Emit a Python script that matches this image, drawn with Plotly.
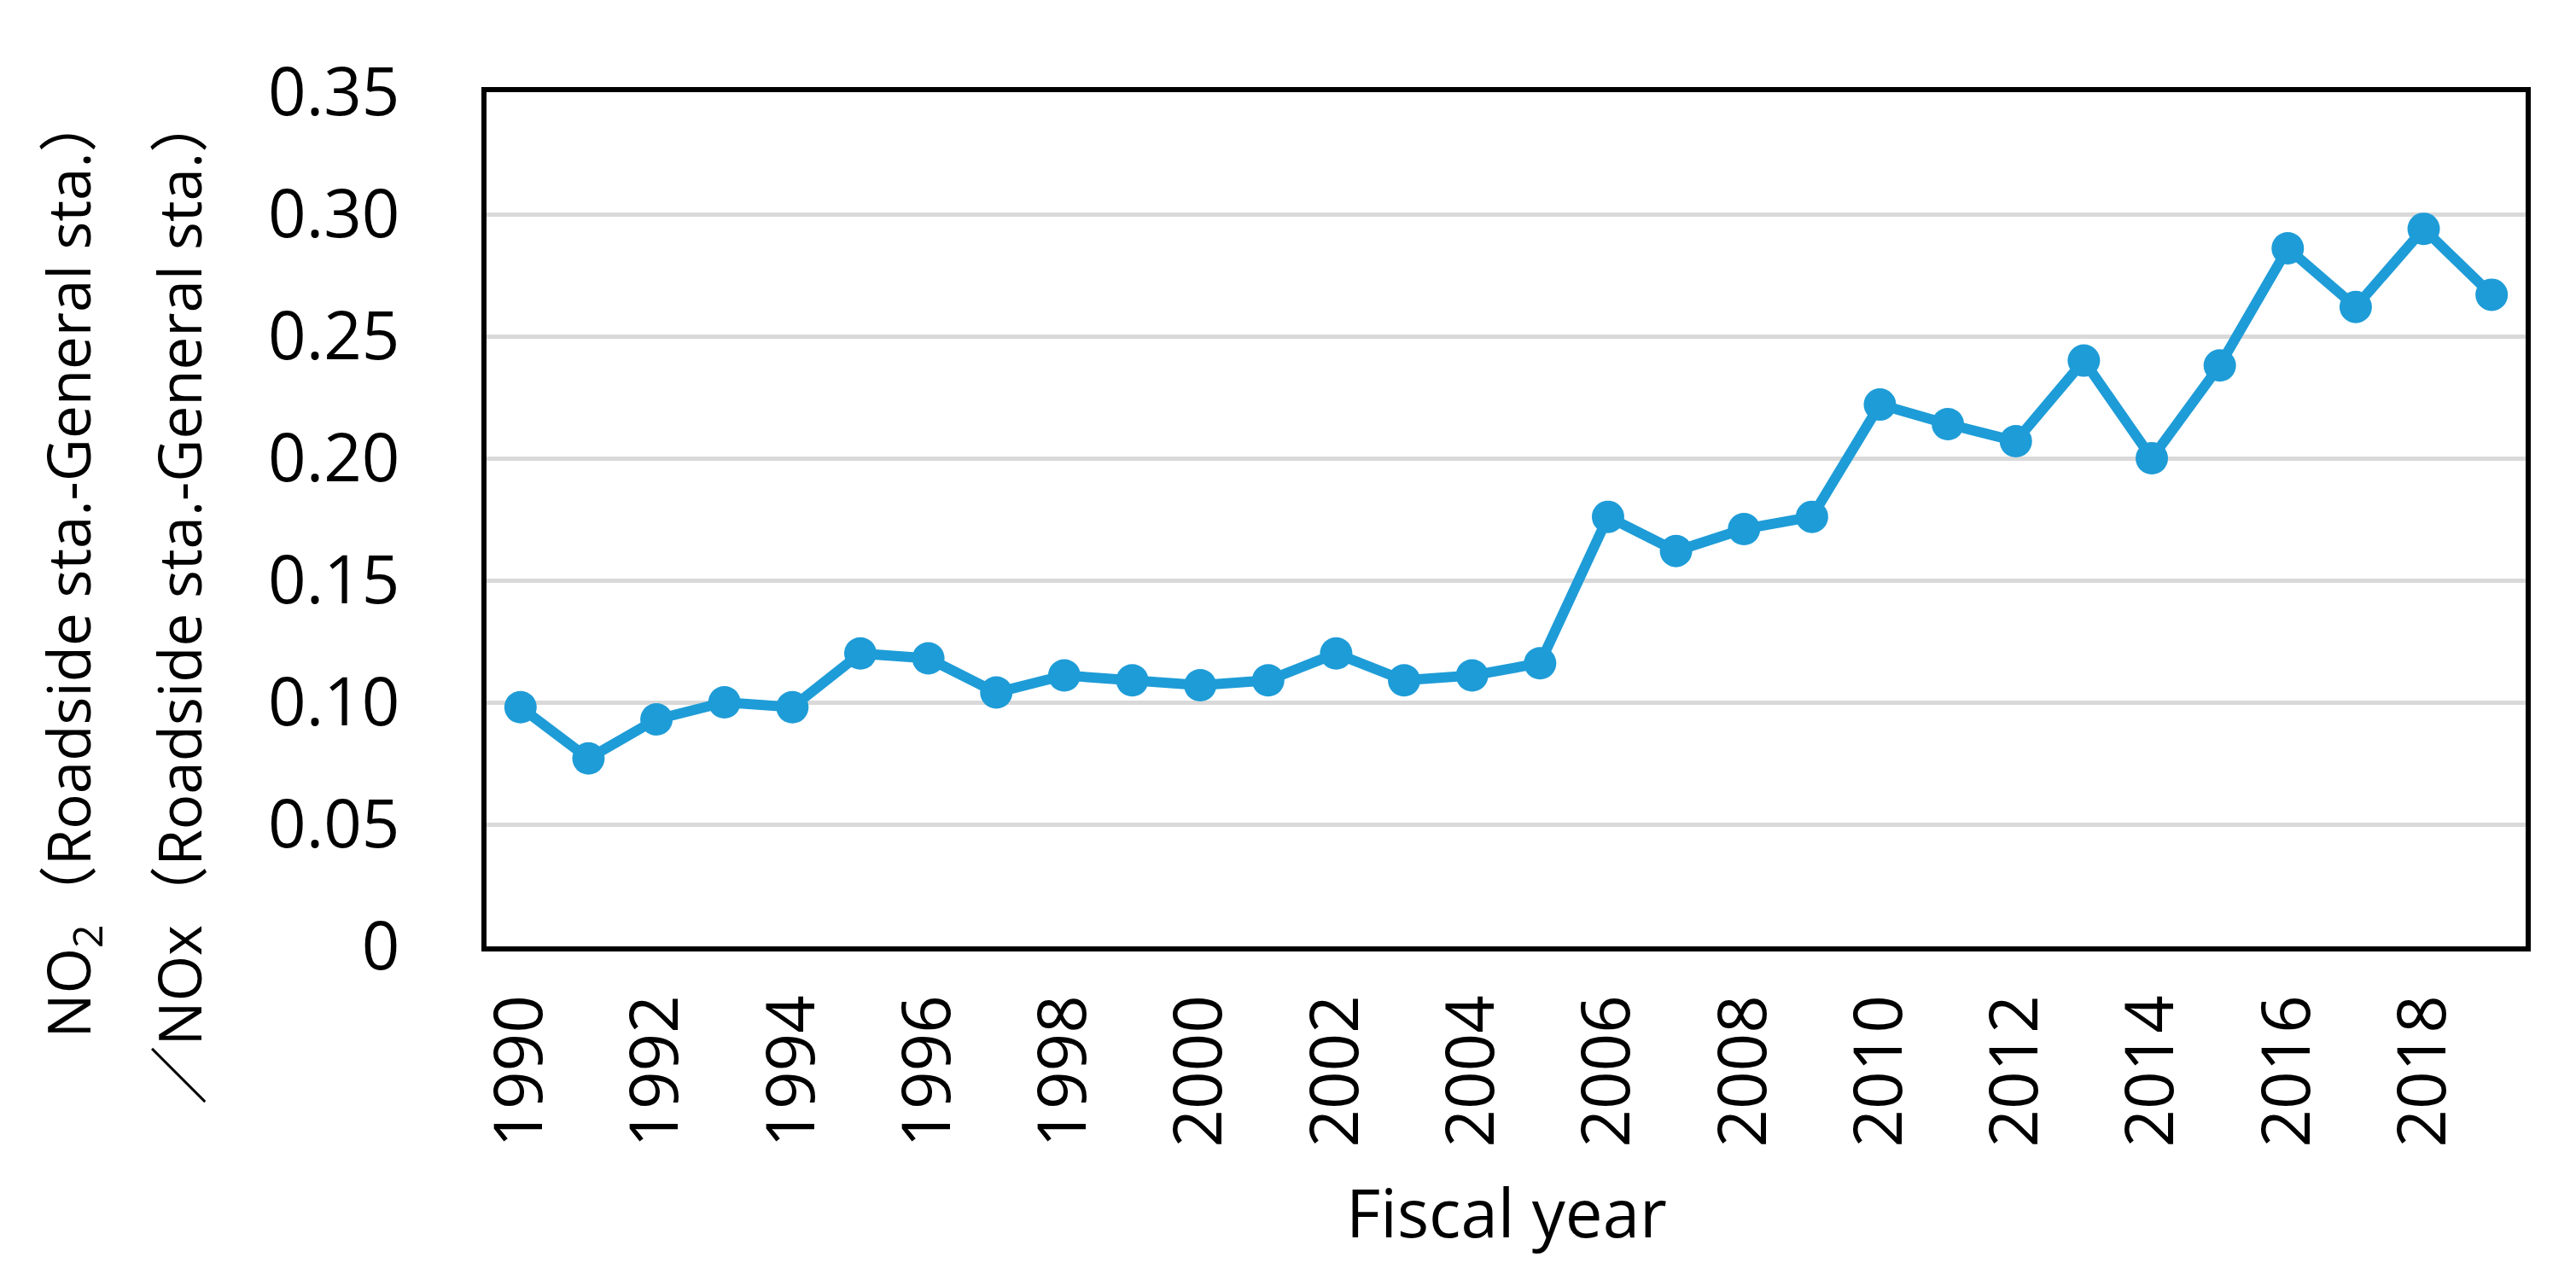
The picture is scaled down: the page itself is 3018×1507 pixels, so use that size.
import plotly.graph_objects as go

years = list(range(1990, 2020))
ratio = [0.098, 0.077, 0.093, 0.100, 0.098, 0.120, 0.118, 0.104, 0.111, 0.109,
         0.107, 0.109, 0.120, 0.109, 0.111, 0.116, 0.176, 0.162, 0.171, 0.176,
         0.222, 0.214, 0.207, 0.240, 0.200, 0.238, 0.286, 0.262, 0.294, 0.267]
x_ticks = list(range(1990, 2020, 2))
y_ticks = [0, 0.05, 0.10, 0.15, 0.20, 0.25, 0.30, 0.35]
y_ticktext = ["0", "0.05", "0.10", "0.15", "0.20", "0.25", "0.30", "0.35"]

FONT = "Open Sans, Noto Sans, Noto Sans CJK JP, sans-serif"
BLUE = "#1E9CD7"

fig = go.Figure()
fig.add_trace(go.Scatter(
    x=years, y=ratio, mode="lines+markers",
    line=dict(color=BLUE, width=12),
    marker=dict(color=BLUE, size=38),
    showlegend=False,
))

W, H = 3018, 1507
L, R, T, B = 562, 2951, 100, 1101
fig.update_layout(
    width=W, height=H,
    margin=dict(l=L, r=W - R, t=T, b=H - B),
    paper_bgcolor="white", plot_bgcolor="white",
    font=dict(family=FONT, color="black", size=78),
)
fig.update_xaxes(
    range=[1989.5, 2019.5], tickvals=x_ticks, ticktext=[str(v) for v in x_ticks],
    tickangle=-90, showgrid=False, zeroline=False,
    showline=True, linecolor="black", linewidth=6, mirror=True,
    ticks="", ticklabelstandoff=20, tickfont=dict(size=78),
)
fig.update_yaxes(
    range=[0, 0.35], tickvals=y_ticks, ticktext=y_ticktext,
    showgrid=True, gridcolor="#d9d9d9", gridwidth=5, zeroline=False,
    showline=True, linecolor="black", linewidth=6, mirror=True,
    ticks="", ticklabelstandoff=80, tickfont=dict(size=78),
)

pw, ph = R - L, B - T
def px_x(p):
    return (p - L) / pw
def px_y(p):
    return (B - p) / ph

fig.add_annotation(
    text="NO<sub>2</sub>（Roadside sta.-General sta.）",
    xref="paper", yref="paper", x=px_x(74), y=px_y(100),
    xanchor="center", yanchor="top", textangle=-90, showarrow=False,
    font=dict(family=FONT, size=69, color="black"),
)
fig.add_annotation(
    text="／NOx（Roadside sta.-General sta.）",
    xref="paper", yref="paper", x=px_x(200), y=px_y(100),
    xanchor="center", yanchor="top", textangle=-90, showarrow=False,
    font=dict(family=FONT, size=69, color="black"),
)
fig.add_annotation(
    text="Fiscal year",
    xref="paper", yref="paper", x=0.5, y=px_y(1412),
    xanchor="center", yanchor="middle", showarrow=False,
    font=dict(family=FONT, size=78, color="black"),
)

fig.write_html("out.html")
